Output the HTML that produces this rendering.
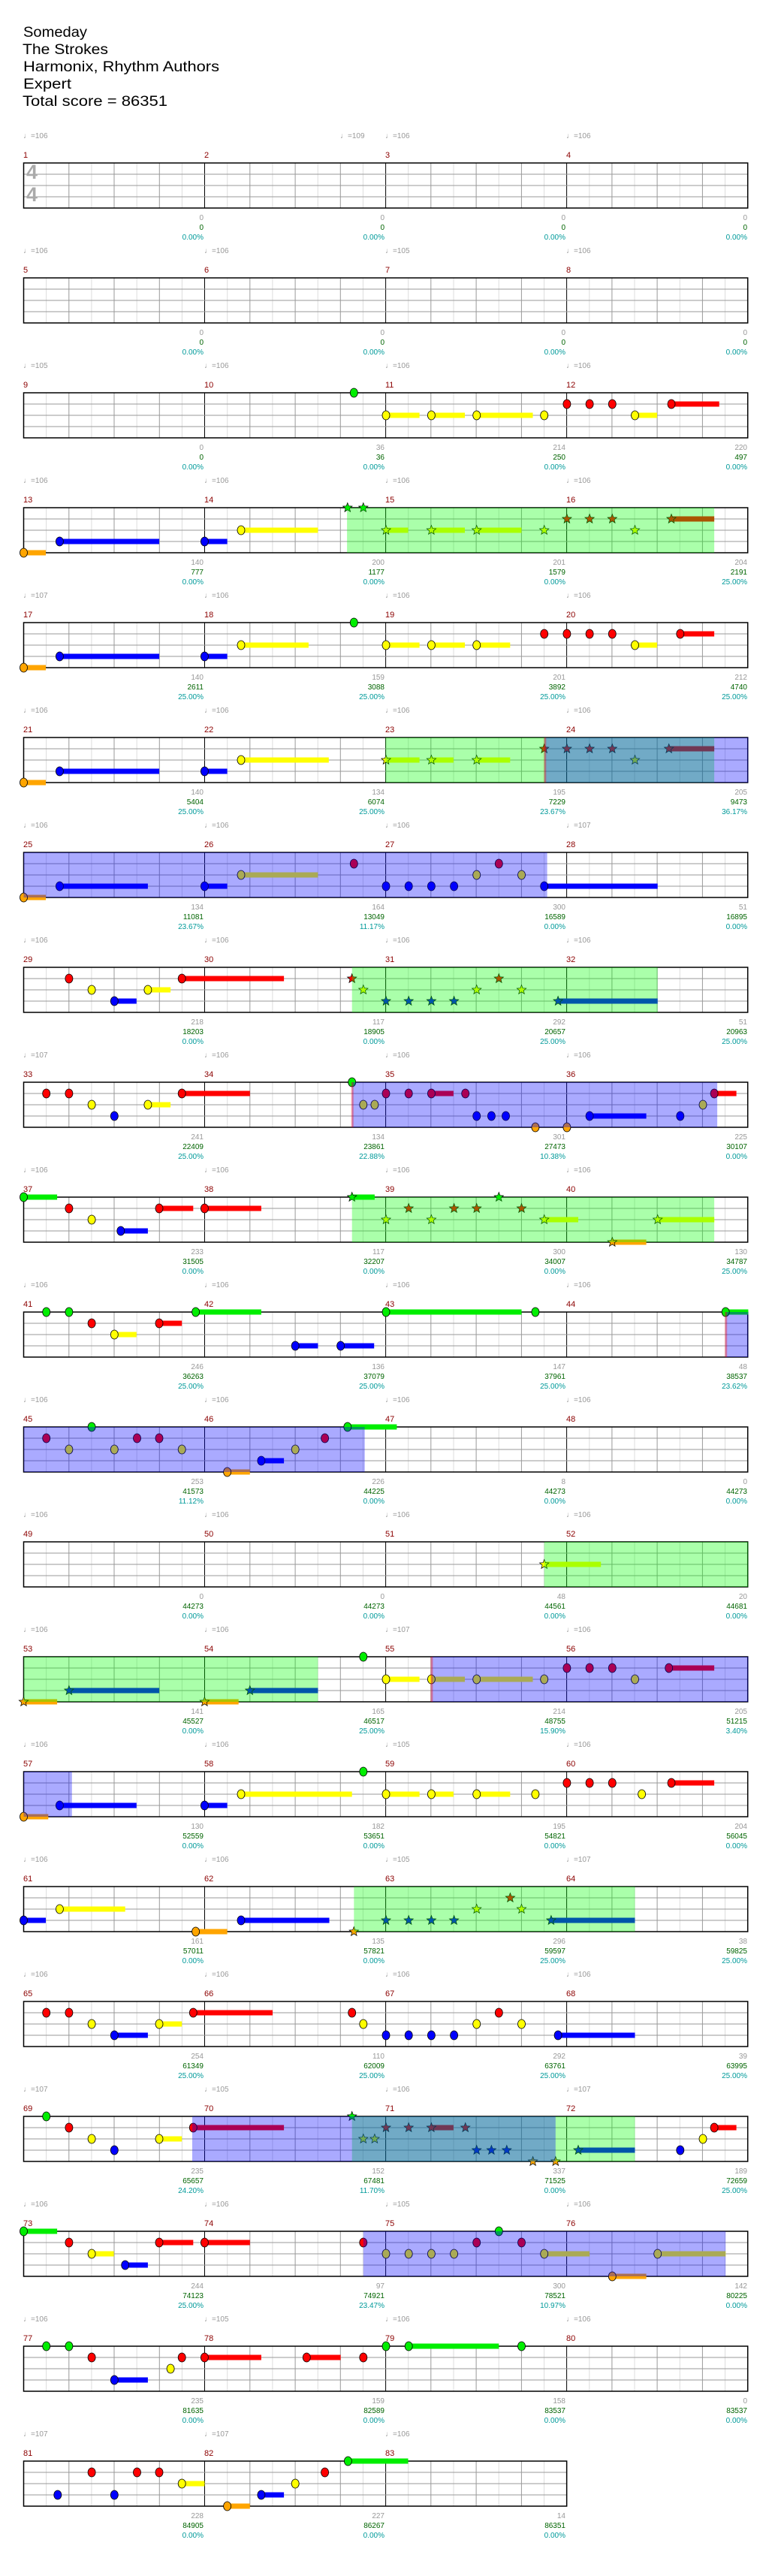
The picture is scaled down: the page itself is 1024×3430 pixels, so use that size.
<!DOCTYPE html>
<html><head><meta charset="utf-8"><style>
html,body{margin:0;padding:0;background:#fff}
svg{display:block}
text{font-family:"Liberation Sans","DejaVu Sans",sans-serif}
.h{font-size:19px;fill:#000}
.t{font-size:10px;fill:#999}
.m{font-size:11px;fill:#8b0000}
.a{font-size:10px;fill:#999;text-anchor:end}
.b{font-size:10px;fill:#006400;text-anchor:end}
.c{font-size:10px;fill:#009a9a;text-anchor:end}
</style></head><body>
<svg id="s" xmlns="http://www.w3.org/2000/svg" width="1024" height="3430" viewBox="0 0 1024 3430">
<rect width="1024" height="3430" fill="#fff"/>
<g id="shapes"></g>
<text class="h" x="31" y="49" textLength="85" lengthAdjust="spacingAndGlyphs">Someday</text>
<text class="h" x="30" y="72" textLength="114" lengthAdjust="spacingAndGlyphs">The Strokes</text>
<text class="h" x="31" y="95" textLength="261" lengthAdjust="spacingAndGlyphs">Harmonix, Rhythm Authors</text>
<text class="h" x="31" y="118" textLength="64" lengthAdjust="spacingAndGlyphs">Expert</text>
<text class="h" x="30" y="141" textLength="193" lengthAdjust="spacingAndGlyphs">Total score = 86351</text>

<g transform="translate(0,217)">
<text x="35" y="21" style="font-size:27px;fill:#aaa;font-weight:bold">4</text>
<text x="35" y="51" style="font-size:27px;fill:#aaa;font-weight:bold">4</text>
<text class="t" x="31" y="-33">♩=106</text><text class="t" x="453" y="-33">♩=109</text><text class="t" x="513" y="-33">♩=106</text><text class="t" x="754" y="-33">♩=106</text>
<text class="m" x="31" y="-7">1</text><text class="m" x="272" y="-7">2</text><text class="m" x="513" y="-7">3</text><text class="m" x="754" y="-7">4</text>
<text class="a" x="271" y="76">0</text><text class="b" x="271" y="89">0</text><text class="c" x="271" y="102">0.00%</text>
<text class="a" x="512" y="76">0</text><text class="b" x="512" y="89">0</text><text class="c" x="512" y="102">0.00%</text>
<text class="a" x="753" y="76">0</text><text class="b" x="753" y="89">0</text><text class="c" x="753" y="102">0.00%</text>
<text class="a" x="995" y="76">0</text><text class="b" x="995" y="89">0</text><text class="c" x="995" y="102">0.00%</text>
</g>
<g transform="translate(0,370)">
<text class="t" x="31" y="-33">♩=106</text><text class="t" x="272" y="-33">♩=106</text><text class="t" x="513" y="-33">♩=105</text><text class="t" x="754" y="-33">♩=106</text>
<text class="m" x="31" y="-7">5</text><text class="m" x="272" y="-7">6</text><text class="m" x="513" y="-7">7</text><text class="m" x="754" y="-7">8</text>
<text class="a" x="271" y="76">0</text><text class="b" x="271" y="89">0</text><text class="c" x="271" y="102">0.00%</text>
<text class="a" x="512" y="76">0</text><text class="b" x="512" y="89">0</text><text class="c" x="512" y="102">0.00%</text>
<text class="a" x="753" y="76">0</text><text class="b" x="753" y="89">0</text><text class="c" x="753" y="102">0.00%</text>
<text class="a" x="995" y="76">0</text><text class="b" x="995" y="89">0</text><text class="c" x="995" y="102">0.00%</text>
</g>
<g transform="translate(0,523)">
<text class="t" x="31" y="-33">♩=105</text><text class="t" x="272" y="-33">♩=106</text><text class="t" x="513" y="-33">♩=106</text><text class="t" x="754" y="-33">♩=106</text>
<text class="m" x="31" y="-7">9</text><text class="m" x="272" y="-7">10</text><text class="m" x="513" y="-7">11</text><text class="m" x="754" y="-7">12</text>
<text class="a" x="271" y="76">0</text><text class="b" x="271" y="89">0</text><text class="c" x="271" y="102">0.00%</text>
<text class="a" x="512" y="76">36</text><text class="b" x="512" y="89">36</text><text class="c" x="512" y="102">0.00%</text>
<text class="a" x="753" y="76">214</text><text class="b" x="753" y="89">250</text><text class="c" x="753" y="102">0.00%</text>
<text class="a" x="995" y="76">220</text><text class="b" x="995" y="89">497</text><text class="c" x="995" y="102">0.00%</text>
</g>
<g transform="translate(0,676)">
<text class="t" x="31" y="-33">♩=106</text><text class="t" x="272" y="-33">♩=106</text><text class="t" x="513" y="-33">♩=106</text><text class="t" x="754" y="-33">♩=106</text>
<text class="m" x="31" y="-7">13</text><text class="m" x="272" y="-7">14</text><text class="m" x="513" y="-7">15</text><text class="m" x="754" y="-7">16</text>
<text class="a" x="271" y="76">140</text><text class="b" x="271" y="89">777</text><text class="c" x="271" y="102">0.00%</text>
<text class="a" x="512" y="76">200</text><text class="b" x="512" y="89">1177</text><text class="c" x="512" y="102">0.00%</text>
<text class="a" x="753" y="76">201</text><text class="b" x="753" y="89">1579</text><text class="c" x="753" y="102">0.00%</text>
<text class="a" x="995" y="76">204</text><text class="b" x="995" y="89">2191</text><text class="c" x="995" y="102">25.00%</text>
</g>
<g transform="translate(0,829)">
<text class="t" x="31" y="-33">♩=107</text><text class="t" x="272" y="-33">♩=106</text><text class="t" x="513" y="-33">♩=106</text><text class="t" x="754" y="-33">♩=106</text>
<text class="m" x="31" y="-7">17</text><text class="m" x="272" y="-7">18</text><text class="m" x="513" y="-7">19</text><text class="m" x="754" y="-7">20</text>
<text class="a" x="271" y="76">140</text><text class="b" x="271" y="89">2611</text><text class="c" x="271" y="102">25.00%</text>
<text class="a" x="512" y="76">159</text><text class="b" x="512" y="89">3088</text><text class="c" x="512" y="102">25.00%</text>
<text class="a" x="753" y="76">201</text><text class="b" x="753" y="89">3892</text><text class="c" x="753" y="102">25.00%</text>
<text class="a" x="995" y="76">212</text><text class="b" x="995" y="89">4740</text><text class="c" x="995" y="102">25.00%</text>
</g>
<g transform="translate(0,982)">
<text class="t" x="31" y="-33">♩=106</text><text class="t" x="272" y="-33">♩=106</text><text class="t" x="513" y="-33">♩=106</text><text class="t" x="754" y="-33">♩=106</text>
<text class="m" x="31" y="-7">21</text><text class="m" x="272" y="-7">22</text><text class="m" x="513" y="-7">23</text><text class="m" x="754" y="-7">24</text>
<text class="a" x="271" y="76">140</text><text class="b" x="271" y="89">5404</text><text class="c" x="271" y="102">25.00%</text>
<text class="a" x="512" y="76">134</text><text class="b" x="512" y="89">6074</text><text class="c" x="512" y="102">25.00%</text>
<text class="a" x="753" y="76">195</text><text class="b" x="753" y="89">7229</text><text class="c" x="753" y="102">23.67%</text>
<text class="a" x="995" y="76">205</text><text class="b" x="995" y="89">9473</text><text class="c" x="995" y="102">36.17%</text>
</g>
<g transform="translate(0,1135)">
<text class="t" x="31" y="-33">♩=106</text><text class="t" x="272" y="-33">♩=106</text><text class="t" x="513" y="-33">♩=106</text><text class="t" x="754" y="-33">♩=107</text>
<text class="m" x="31" y="-7">25</text><text class="m" x="272" y="-7">26</text><text class="m" x="513" y="-7">27</text><text class="m" x="754" y="-7">28</text>
<text class="a" x="271" y="76">134</text><text class="b" x="271" y="89">11081</text><text class="c" x="271" y="102">23.67%</text>
<text class="a" x="512" y="76">164</text><text class="b" x="512" y="89">13049</text><text class="c" x="512" y="102">11.17%</text>
<text class="a" x="753" y="76">300</text><text class="b" x="753" y="89">16589</text><text class="c" x="753" y="102">0.00%</text>
<text class="a" x="995" y="76">51</text><text class="b" x="995" y="89">16895</text><text class="c" x="995" y="102">0.00%</text>
</g>
<g transform="translate(0,1288)">
<text class="t" x="31" y="-33">♩=106</text><text class="t" x="272" y="-33">♩=106</text><text class="t" x="513" y="-33">♩=106</text><text class="t" x="754" y="-33">♩=106</text>
<text class="m" x="31" y="-7">29</text><text class="m" x="272" y="-7">30</text><text class="m" x="513" y="-7">31</text><text class="m" x="754" y="-7">32</text>
<text class="a" x="271" y="76">218</text><text class="b" x="271" y="89">18203</text><text class="c" x="271" y="102">0.00%</text>
<text class="a" x="512" y="76">117</text><text class="b" x="512" y="89">18905</text><text class="c" x="512" y="102">0.00%</text>
<text class="a" x="753" y="76">292</text><text class="b" x="753" y="89">20657</text><text class="c" x="753" y="102">25.00%</text>
<text class="a" x="995" y="76">51</text><text class="b" x="995" y="89">20963</text><text class="c" x="995" y="102">25.00%</text>
</g>
<g transform="translate(0,1441)">
<text class="t" x="31" y="-33">♩=107</text><text class="t" x="272" y="-33">♩=106</text><text class="t" x="513" y="-33">♩=106</text><text class="t" x="754" y="-33">♩=106</text>
<text class="m" x="31" y="-7">33</text><text class="m" x="272" y="-7">34</text><text class="m" x="513" y="-7">35</text><text class="m" x="754" y="-7">36</text>
<text class="a" x="271" y="76">241</text><text class="b" x="271" y="89">22409</text><text class="c" x="271" y="102">25.00%</text>
<text class="a" x="512" y="76">134</text><text class="b" x="512" y="89">23861</text><text class="c" x="512" y="102">22.88%</text>
<text class="a" x="753" y="76">301</text><text class="b" x="753" y="89">27473</text><text class="c" x="753" y="102">10.38%</text>
<text class="a" x="995" y="76">225</text><text class="b" x="995" y="89">30107</text><text class="c" x="995" y="102">0.00%</text>
</g>
<g transform="translate(0,1594)">
<text class="t" x="31" y="-33">♩=106</text><text class="t" x="272" y="-33">♩=106</text><text class="t" x="513" y="-33">♩=106</text><text class="t" x="754" y="-33">♩=106</text>
<text class="m" x="31" y="-7">37</text><text class="m" x="272" y="-7">38</text><text class="m" x="513" y="-7">39</text><text class="m" x="754" y="-7">40</text>
<text class="a" x="271" y="76">233</text><text class="b" x="271" y="89">31505</text><text class="c" x="271" y="102">0.00%</text>
<text class="a" x="512" y="76">117</text><text class="b" x="512" y="89">32207</text><text class="c" x="512" y="102">0.00%</text>
<text class="a" x="753" y="76">300</text><text class="b" x="753" y="89">34007</text><text class="c" x="753" y="102">0.00%</text>
<text class="a" x="995" y="76">130</text><text class="b" x="995" y="89">34787</text><text class="c" x="995" y="102">25.00%</text>
</g>
<g transform="translate(0,1747)">
<text class="t" x="31" y="-33">♩=106</text><text class="t" x="272" y="-33">♩=106</text><text class="t" x="513" y="-33">♩=106</text><text class="t" x="754" y="-33">♩=106</text>
<text class="m" x="31" y="-7">41</text><text class="m" x="272" y="-7">42</text><text class="m" x="513" y="-7">43</text><text class="m" x="754" y="-7">44</text>
<text class="a" x="271" y="76">246</text><text class="b" x="271" y="89">36263</text><text class="c" x="271" y="102">25.00%</text>
<text class="a" x="512" y="76">136</text><text class="b" x="512" y="89">37079</text><text class="c" x="512" y="102">25.00%</text>
<text class="a" x="753" y="76">147</text><text class="b" x="753" y="89">37961</text><text class="c" x="753" y="102">25.00%</text>
<text class="a" x="995" y="76">48</text><text class="b" x="995" y="89">38537</text><text class="c" x="995" y="102">23.62%</text>
</g>
<g transform="translate(0,1900)">
<text class="t" x="31" y="-33">♩=106</text><text class="t" x="272" y="-33">♩=106</text><text class="t" x="513" y="-33">♩=106</text><text class="t" x="754" y="-33">♩=106</text>
<text class="m" x="31" y="-7">45</text><text class="m" x="272" y="-7">46</text><text class="m" x="513" y="-7">47</text><text class="m" x="754" y="-7">48</text>
<text class="a" x="271" y="76">253</text><text class="b" x="271" y="89">41573</text><text class="c" x="271" y="102">11.12%</text>
<text class="a" x="512" y="76">226</text><text class="b" x="512" y="89">44225</text><text class="c" x="512" y="102">0.00%</text>
<text class="a" x="753" y="76">8</text><text class="b" x="753" y="89">44273</text><text class="c" x="753" y="102">0.00%</text>
<text class="a" x="995" y="76">0</text><text class="b" x="995" y="89">44273</text><text class="c" x="995" y="102">0.00%</text>
</g>
<g transform="translate(0,2053)">
<text class="t" x="31" y="-33">♩=106</text><text class="t" x="272" y="-33">♩=106</text><text class="t" x="513" y="-33">♩=106</text><text class="t" x="754" y="-33">♩=106</text>
<text class="m" x="31" y="-7">49</text><text class="m" x="272" y="-7">50</text><text class="m" x="513" y="-7">51</text><text class="m" x="754" y="-7">52</text>
<text class="a" x="271" y="76">0</text><text class="b" x="271" y="89">44273</text><text class="c" x="271" y="102">0.00%</text>
<text class="a" x="512" y="76">0</text><text class="b" x="512" y="89">44273</text><text class="c" x="512" y="102">0.00%</text>
<text class="a" x="753" y="76">48</text><text class="b" x="753" y="89">44561</text><text class="c" x="753" y="102">0.00%</text>
<text class="a" x="995" y="76">20</text><text class="b" x="995" y="89">44681</text><text class="c" x="995" y="102">0.00%</text>
</g>
<g transform="translate(0,2206)">
<text class="t" x="31" y="-33">♩=106</text><text class="t" x="272" y="-33">♩=106</text><text class="t" x="513" y="-33">♩=107</text><text class="t" x="754" y="-33">♩=106</text>
<text class="m" x="31" y="-7">53</text><text class="m" x="272" y="-7">54</text><text class="m" x="513" y="-7">55</text><text class="m" x="754" y="-7">56</text>
<text class="a" x="271" y="76">141</text><text class="b" x="271" y="89">45527</text><text class="c" x="271" y="102">0.00%</text>
<text class="a" x="512" y="76">165</text><text class="b" x="512" y="89">46517</text><text class="c" x="512" y="102">25.00%</text>
<text class="a" x="753" y="76">214</text><text class="b" x="753" y="89">48755</text><text class="c" x="753" y="102">15.90%</text>
<text class="a" x="995" y="76">205</text><text class="b" x="995" y="89">51215</text><text class="c" x="995" y="102">3.40%</text>
</g>
<g transform="translate(0,2359)">
<text class="t" x="31" y="-33">♩=106</text><text class="t" x="272" y="-33">♩=106</text><text class="t" x="513" y="-33">♩=105</text><text class="t" x="754" y="-33">♩=106</text>
<text class="m" x="31" y="-7">57</text><text class="m" x="272" y="-7">58</text><text class="m" x="513" y="-7">59</text><text class="m" x="754" y="-7">60</text>
<text class="a" x="271" y="76">130</text><text class="b" x="271" y="89">52559</text><text class="c" x="271" y="102">0.00%</text>
<text class="a" x="512" y="76">182</text><text class="b" x="512" y="89">53651</text><text class="c" x="512" y="102">0.00%</text>
<text class="a" x="753" y="76">195</text><text class="b" x="753" y="89">54821</text><text class="c" x="753" y="102">0.00%</text>
<text class="a" x="995" y="76">204</text><text class="b" x="995" y="89">56045</text><text class="c" x="995" y="102">0.00%</text>
</g>
<g transform="translate(0,2512)">
<text class="t" x="31" y="-33">♩=106</text><text class="t" x="272" y="-33">♩=106</text><text class="t" x="513" y="-33">♩=105</text><text class="t" x="754" y="-33">♩=107</text>
<text class="m" x="31" y="-7">61</text><text class="m" x="272" y="-7">62</text><text class="m" x="513" y="-7">63</text><text class="m" x="754" y="-7">64</text>
<text class="a" x="271" y="76">161</text><text class="b" x="271" y="89">57011</text><text class="c" x="271" y="102">0.00%</text>
<text class="a" x="512" y="76">135</text><text class="b" x="512" y="89">57821</text><text class="c" x="512" y="102">0.00%</text>
<text class="a" x="753" y="76">296</text><text class="b" x="753" y="89">59597</text><text class="c" x="753" y="102">25.00%</text>
<text class="a" x="995" y="76">38</text><text class="b" x="995" y="89">59825</text><text class="c" x="995" y="102">25.00%</text>
</g>
<g transform="translate(0,2665)">
<text class="t" x="31" y="-33">♩=106</text><text class="t" x="272" y="-33">♩=106</text><text class="t" x="513" y="-33">♩=106</text><text class="t" x="754" y="-33">♩=106</text>
<text class="m" x="31" y="-7">65</text><text class="m" x="272" y="-7">66</text><text class="m" x="513" y="-7">67</text><text class="m" x="754" y="-7">68</text>
<text class="a" x="271" y="76">254</text><text class="b" x="271" y="89">61349</text><text class="c" x="271" y="102">25.00%</text>
<text class="a" x="512" y="76">110</text><text class="b" x="512" y="89">62009</text><text class="c" x="512" y="102">25.00%</text>
<text class="a" x="753" y="76">292</text><text class="b" x="753" y="89">63761</text><text class="c" x="753" y="102">25.00%</text>
<text class="a" x="995" y="76">39</text><text class="b" x="995" y="89">63995</text><text class="c" x="995" y="102">25.00%</text>
</g>
<g transform="translate(0,2818)">
<text class="t" x="31" y="-33">♩=107</text><text class="t" x="272" y="-33">♩=105</text><text class="t" x="513" y="-33">♩=106</text><text class="t" x="754" y="-33">♩=107</text>
<text class="m" x="31" y="-7">69</text><text class="m" x="272" y="-7">70</text><text class="m" x="513" y="-7">71</text><text class="m" x="754" y="-7">72</text>
<text class="a" x="271" y="76">235</text><text class="b" x="271" y="89">65657</text><text class="c" x="271" y="102">24.20%</text>
<text class="a" x="512" y="76">152</text><text class="b" x="512" y="89">67481</text><text class="c" x="512" y="102">11.70%</text>
<text class="a" x="753" y="76">337</text><text class="b" x="753" y="89">71525</text><text class="c" x="753" y="102">0.00%</text>
<text class="a" x="995" y="76">189</text><text class="b" x="995" y="89">72659</text><text class="c" x="995" y="102">25.00%</text>
</g>
<g transform="translate(0,2971)">
<text class="t" x="31" y="-33">♩=106</text><text class="t" x="272" y="-33">♩=106</text><text class="t" x="513" y="-33">♩=105</text><text class="t" x="754" y="-33">♩=106</text>
<text class="m" x="31" y="-7">73</text><text class="m" x="272" y="-7">74</text><text class="m" x="513" y="-7">75</text><text class="m" x="754" y="-7">76</text>
<text class="a" x="271" y="76">244</text><text class="b" x="271" y="89">74123</text><text class="c" x="271" y="102">25.00%</text>
<text class="a" x="512" y="76">97</text><text class="b" x="512" y="89">74921</text><text class="c" x="512" y="102">23.47%</text>
<text class="a" x="753" y="76">300</text><text class="b" x="753" y="89">78521</text><text class="c" x="753" y="102">10.97%</text>
<text class="a" x="995" y="76">142</text><text class="b" x="995" y="89">80225</text><text class="c" x="995" y="102">0.00%</text>
</g>
<g transform="translate(0,3124)">
<text class="t" x="31" y="-33">♩=106</text><text class="t" x="272" y="-33">♩=105</text><text class="t" x="513" y="-33">♩=106</text><text class="t" x="754" y="-33">♩=106</text>
<text class="m" x="31" y="-7">77</text><text class="m" x="272" y="-7">78</text><text class="m" x="513" y="-7">79</text><text class="m" x="754" y="-7">80</text>
<text class="a" x="271" y="76">235</text><text class="b" x="271" y="89">81635</text><text class="c" x="271" y="102">0.00%</text>
<text class="a" x="512" y="76">159</text><text class="b" x="512" y="89">82589</text><text class="c" x="512" y="102">0.00%</text>
<text class="a" x="753" y="76">158</text><text class="b" x="753" y="89">83537</text><text class="c" x="753" y="102">0.00%</text>
<text class="a" x="995" y="76">0</text><text class="b" x="995" y="89">83537</text><text class="c" x="995" y="102">0.00%</text>
</g>
<g transform="translate(0,3277)">
<text class="t" x="31" y="-33">♩=107</text><text class="t" x="272" y="-33">♩=107</text><text class="t" x="513" y="-33">♩=106</text>
<text class="m" x="31" y="-7">81</text><text class="m" x="272" y="-7">82</text><text class="m" x="513" y="-7">83</text>
<text class="a" x="271" y="76">228</text><text class="b" x="271" y="89">84905</text><text class="c" x="271" y="102">0.00%</text>
<text class="a" x="512" y="76">227</text><text class="b" x="512" y="89">86267</text><text class="c" x="512" y="102">0.00%</text>
<text class="a" x="753" y="76">14</text><text class="b" x="753" y="89">86351</text><text class="c" x="753" y="102">0.00%</text>
</g>
</svg>
<script>
(function(){
var R=[
["",""],
["",""],
["","g718 y783-851 y875-943 y967-1081 y1104 r1150 r1196 r1242 y1288-1333 r1362-1459"],
["G704-1449","o48-93 b121-323 b415-461 y489-645 *g705 *g737 *y783-828 *y875-943 *y967-1058 *y1104 *r1150 *r1196 *r1242 *y1288 *r1362-1449"],
["","o48-93 b121-323 b415-461 y489-626 g718 y783-851 y875-943 y967-1035 r1104 r1150 r1196 r1242 y1288-1333 r1380-1449"],
["G782-1449 M1105-1518","o48-93 b121-323 b415-461 y489-667 *y783-851 *y875-920 *y967-1035 *r1104 *r1150 *r1196 *r1242 *y1288 *r1357-1449"],
["B48-1110","o48-93 b121-300 b415-461 y489-645 r718 b783 b829 b875 b921 y967 r1012 y1058 b1104-1334"],
["G714-1334","r140 y186 b232-277 y300-346 r369-576 *r714 *y737 *b783 *b829 *b875 *b921 *y967 *r1012 *y1058 *b1132-1334"],
["M714-1455","r94 r140 y186 b232 y300-346 r369-507 g714 y737 y760 r783 r829 r875-920 r944 b967 b997 b1026 o1086 o1150 b1196-1311 b1380 y1426 r1449-1494"],
["G714-1449","g48-116 r140 y186 b245-300 r323-392 r415-530 *g714-760 *y783 *r829 *y875 *r921 *r967 *g1012 *r1058 *y1104-1173 *o1242-1311 *y1334-1449"],
["M1472-1518","g94 g140 r186 y232-277 r323-369 g397-530 b599-645 b691-759 g783-1058 g1086 g1472-1518"],
["B48-740","r94 y140 g186 y232 r278 r323 y369 o461-507 b530-576 y599 r659 g705-805"],
["G1104-1518","*y1104-1219"],
["G48-645 M875-1518","*o48-116 *b140-323 *o415-484 *b507-645 g737 y783-851 y875-943 y967-1081 y1104 r1150 r1196 r1242 y1288 r1357-1449"],
["B48-146","o48-98 b121-277 b415-461 y489-714 g737 y783-851 y875-920 y967-1035 y1086 r1150 r1196 r1242 y1302 r1362-1449"],
["G718-1288","b48-93 y121-254 o397-461 b489-668 *o718 *b783 *b829 *b875 *b921 *y967 *r1035 *y1058 *b1118-1288"],
["","r94 r140 y186 b232-300 y323-369 r392-553 r714 y737 b783 b829 b875 b921 y967 r1012 y1058 b1132-1288"],
["G714-1288 B390-1127","g94 r140 y186 b232 y323-369 r392-576 *g714 *y737 *y760 *r783 *r829 *r875-920 *r944 *b967 *b997 *b1028 *o1081 *o1127 *b1173-1288 b1380 y1426 r1449-1494"],
["B737-1472","g48-116 r140 y186-231 b254-300 r323-392 r415-507 r737 y783 y829 y875 y921 r967 g1012 r1058 y1104-1196 o1242-1311 y1334-1472"],
["","g94 g140 r186 b232-300 y346 r369 r415-530 r622-691 r737 g783 g829-1012 g1058"],
["","b117 r186 b232 r278 r323 y369-415 o461-507 b530-576 y599 r659 g706-828"]
];
var F=1024/1560,L=31.5,C={g:"#00ee00",r:"#ff0000",y:"#ffff00",b:"#0000ff",o:"#ffa500"},Y={g:0,r:15,y:30,b:45,o:60};
var h=[];
function X(v){return (v*F).toFixed(1);}
function star(cx,cy,col){var p=[];for(var i=0;i<10;i++){var a=-Math.PI/2+i*Math.PI/5,rr=i%2?2.8:6.5;p.push((cx+rr*Math.cos(a)).toFixed(1)+","+(cy+rr*Math.sin(a)).toFixed(1));}
return '<polygon points="'+p.join(" ")+'" fill="'+col+'" stroke="#000" stroke-width="0.7"/>';}
R.forEach(function(r,k){
var T=217+153*k,m=(k==20)?3:4,W=L+m*241.05;
h.push('<g transform="translate(0,'+T+')">');
h.push('<rect x="'+L+'" y="0" width="'+(W-L)+'" height="60" fill="#fff"/>');
for(var i=1;i<m*8;i++){var x=L+i*30.13;var c=i%8==0?"#000":(i%2==0?"#999":"#ddd");h.push('<line x1="'+x.toFixed(1)+'" y1="0" x2="'+x.toFixed(1)+'" y2="60" stroke="'+c+'" stroke-width="1"/>');}
[15,30,45].forEach(function(y){h.push('<line x1="'+L+'" y1="'+y+'" x2="'+W+'" y2="'+y+'" stroke="#999" stroke-width="1"/>');});
h.push('<rect x="'+L+'" y="0" width="'+(W-L)+'" height="60" fill="none" stroke="#000" stroke-width="1.5"/>');
var ns=r[1]?r[1].split(" "):[];
var parsed=ns.map(function(s){var st=s[0]=="*";if(st)s=s.slice(1);var l=s[0];var p=s.slice(1).split("-");return{st:st,l:l,x:+p[0],e:p[1]?+p[1]:0};});
parsed.forEach(function(n){if(n.e){h.push('<rect x="'+X(n.x)+'" y="'+(Y[n.l]-3.5)+'" width="'+(F*(n.e-n.x)).toFixed(1)+'" height="7" fill="'+C[n.l]+'"/>');}});
parsed.forEach(function(n){var cx=+X(n.x),cy=Y[n.l];if(n.st)h.push(star(cx,cy,C[n.l]));else h.push('<ellipse cx="'+cx+'" cy="'+cy+'" rx="5" ry="6" fill="'+C[n.l]+'" stroke="#000" stroke-width="0.8"/>');});
var rg=r[0]?r[0].split(" "):[];
rg.forEach(function(s){var t=s[0],p=s.slice(1).split("-"),x1=+X(+p[0]),x2=+X(+p[1]);
var col=t=="G"?"rgba(0,255,0,0.333)":"rgba(0,0,255,0.333)";
h.push('<rect x="'+x1+'" y="0" width="'+(x2-x1).toFixed(1)+'" height="60" fill="'+col+'"/>');
if(t=="M")h.push('<rect x="'+(x1-1)+'" y="0" width="3" height="60" fill="rgba(255,0,0,0.35)"/>');});
h.push('</g>');
});
document.getElementById("shapes").innerHTML=h.join("");
})();
</script>
</body></html>
